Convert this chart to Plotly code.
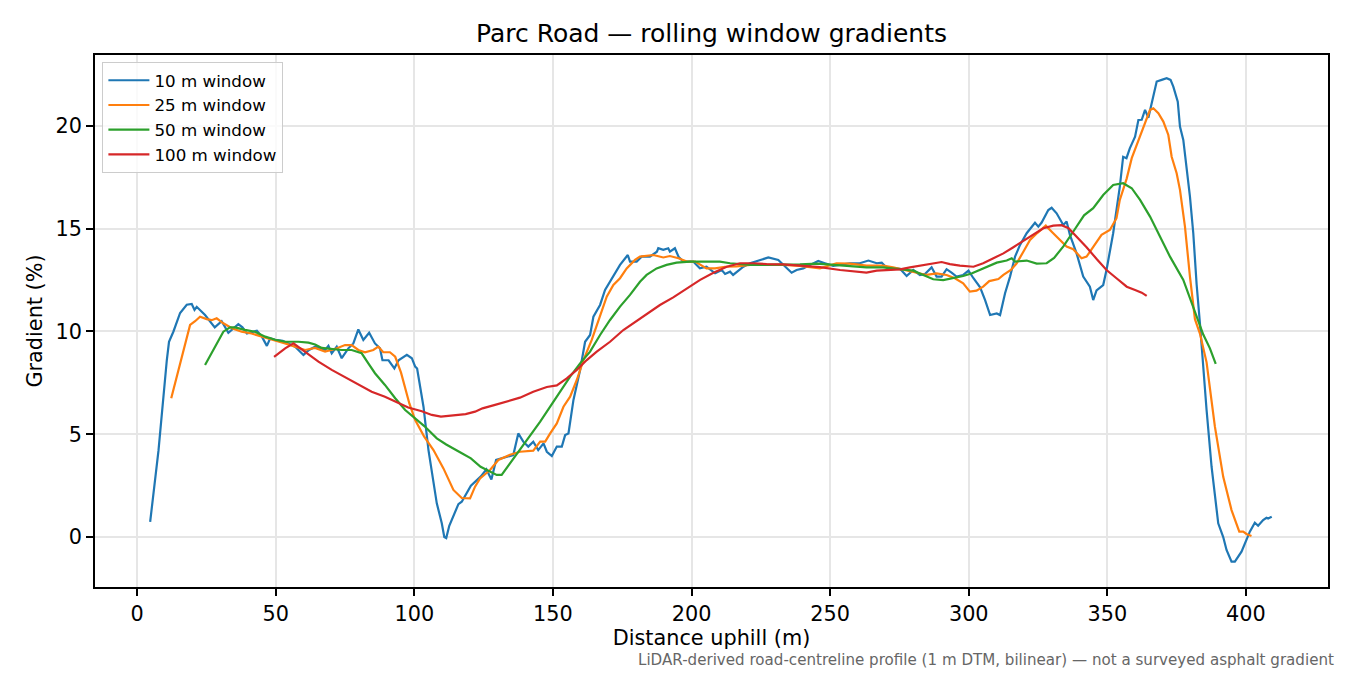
import plotly.graph_objects as go

# 10 m window (blue)
d10 = [4.7, 7.7, 10.7, 11.5, 13.1, 15.5, 17.9, 19.7, 20.7, 21.5, 24.5, 27.5, 28.0, 30.5, 32.9,
       36.5, 38.0, 39.6, 43.2, 45.0, 46.8, 48.0, 49.8, 52.5, 57.0, 60.0, 62.0, 64.2, 67.8, 69.0,
       70.2, 72.0, 73.8, 76.2, 78.0, 79.8, 81.6, 83.7, 85.8, 87.6, 88.5, 90.7, 92.8, 94.3, 97.3,
       99.1, 100.3, 101.0, 103.3, 105.1, 108.1, 109.9, 110.8, 111.5, 112.6, 115.9, 117.1, 120.4,
       124.0, 126.0, 127.8, 129.5, 133.4, 135.7, 137.5, 139.3, 141.1, 142.9, 144.7, 146.6, 147.8,
       149.6, 151.4, 153.2, 154.4, 155.6, 157.4, 159.8, 161.6, 163.4, 164.6, 167.0, 168.8, 171.2,
       174.2, 177.0, 177.8, 180.2, 182.0, 185.0, 187.5, 188.0, 189.8, 191.6, 192.2, 194.0, 195.3,
       197.0, 200.6, 203.0, 205.4, 208.5, 210.9, 212.1, 213.9, 215.0, 218.7, 221.1, 224.7, 227.7,
       231.3, 233.7, 236.1, 237.9, 240.3, 242.8, 245.7, 248.1, 251.1, 254.0, 257.1, 260.7, 263.8,
       266.8, 268.6, 270.4, 275.2, 277.6, 280.0, 282.4, 284.2, 286.6, 288.4, 290.2, 292.0, 293.8,
       295.6, 298.0, 299.9, 301.7, 304.1, 305.9, 307.7, 310.1, 311.3, 313.1, 314.9, 316.7, 318.5,
       320.9, 322.7, 323.9, 325.1, 326.3, 328.7, 329.9, 331.7, 334.1, 335.3, 336.5, 338.9, 341.3,
       343.7, 344.9, 346.1, 348.5, 349.7, 352.1, 354.5, 355.7, 356.9, 358.1, 360.0, 361.2, 362.4,
       363.6, 364.8, 365.4, 366.6, 367.8, 369.6, 371.4, 372.8, 373.8, 375.4, 376.2, 377.4, 378.6,
       379.8, 381.0, 382.2, 383.4, 384.6, 385.8, 387.6, 390.0, 391.8, 393.0, 394.8, 396.0, 398.4,
       400.2, 401.4, 403.2, 404.4, 406.2, 407.4, 408.0, 409.3]
g10 = [0.74, 4.2, 8.6, 9.5, 10.0, 10.9, 11.3, 11.34, 11.05, 11.2, 10.8, 10.27, 10.2, 10.5, 9.94,
       10.36, 10.2, 9.9, 10.04, 9.75, 9.3, 9.67, 9.59, 9.55, 9.26, 8.86, 9.1, 9.26, 9.1, 9.3,
       8.94, 9.26, 8.7, 9.18, 9.42, 10.1, 9.59, 9.94, 9.42, 9.18, 8.6, 8.6, 8.2, 8.6, 8.86,
       8.7, 8.29, 8.2, 6.34, 4.23, 1.64, 0.67, 0.0, -0.05, 0.55, 1.6, 1.72, 2.5,
       2.95, 3.3, 2.8, 3.75, 3.91, 3.99, 5.04, 4.64, 4.4, 4.64, 4.23, 4.56, 4.15,
       3.94, 4.4, 4.4, 4.96, 5.04, 6.67, 8.13, 9.5, 9.83, 10.72, 11.29, 12.02, 12.59,
       13.24, 13.72, 13.4, 13.4, 13.64, 13.64, 13.88, 14.05, 13.97, 14.05, 13.88, 14.05, 13.64,
       13.4, 13.4, 13.07, 13.15, 12.83, 12.99, 12.8, 12.91, 12.75, 13.15, 13.32, 13.48, 13.6,
       13.48, 13.15, 12.86, 12.99, 13.07, 13.24, 13.43, 13.32, 13.19, 13.25, 13.32, 13.32, 13.45,
       13.32, 13.35, 13.1, 13.05, 12.7, 12.99, 12.75, 12.8, 13.12, 12.67, 12.67, 13.03, 12.86,
       12.67, 12.75, 12.96, 12.59, 12.15, 11.53, 10.8, 10.88, 10.8, 11.86, 12.67, 13.64, 14.21,
       14.78, 15.1, 15.29, 15.1, 15.3, 15.91, 16.02, 15.75, 15.18, 15.35, 14.7, 13.8, 12.67,
       12.18, 11.53, 12.0, 12.26, 12.99, 14.78, 17.05, 18.5, 18.43, 18.91, 19.48, 20.29, 20.3,
       20.78, 20.4, 20.78, 21.43, 22.16, 22.24, 22.32, 22.24, 21.91, 21.18, 19.97, 19.32, 18.02,
       16.56, 14.78, 12.3, 10.4, 8.1, 6.18, 3.42, 0.67, 0.0, -0.63, -1.2, -1.2, -0.71,
       -0.15, 0.26, 0.7, 0.55, 0.83, 0.94, 0.9, 0.99]

# 25 m window (orange)
d25 = [12.3, 14.3, 16.7, 19.1, 20.9, 22.7, 25.1, 26.9, 28.7, 31.1, 34.2, 37.7, 41.3, 45.0, 49.8,
       53.4, 57.0, 60.6, 64.2, 67.8, 71.4, 75.0, 77.4, 79.8, 82.2, 85.2, 87.0, 88.8, 91.2, 93.1,
       95.2, 98.2, 100.3, 103.5, 106.9, 110.5, 114.1, 117.1, 120.1, 121.9, 123.7, 127.3, 130.3,
       134.5, 138.1, 142.9, 145.4, 147.2, 149.0, 151.4, 153.8, 156.2, 158.6, 161.0, 164.0, 167.0,
       169.4, 171.8, 174.2, 176.6, 179.6, 181.4, 186.2, 189.8, 192.2, 195.3, 198.3, 201.3, 205.4,
       208.5, 212.1, 216.3, 221.1, 227.1, 233.1, 239.1, 246.3, 252.3, 257.1, 263.1, 269.1, 272.7,
       277.6, 281.2, 284.8, 288.4, 292.0, 295.0, 298.0, 300.4, 302.8, 305.2, 307.4, 310.7, 312.5,
       315.2, 317.3, 319.7, 322.1, 324.8, 327.8, 330.2, 332.9, 335.3, 337.7, 340.7, 342.5, 344.9,
       347.9, 350.9, 353.3, 354.5, 357.0, 358.8, 361.2, 363.6, 365.4, 366.6, 368.4, 370.2, 372.0,
       373.2, 375.0, 376.2, 378.0, 379.8, 381.6, 383.4, 385.8, 388.8, 391.8, 394.8, 397.6, 399.0,
       400.2, 402.0]
g25 = [6.75, 7.8, 8.94, 10.32, 10.5, 10.72, 10.6, 10.55, 10.64, 10.4, 10.16, 9.99, 9.9, 9.75, 9.59,
       9.42, 9.26, 9.1, 9.2, 9.02, 9.15, 9.34, 9.34, 9.1, 8.99, 9.1, 9.26, 8.99, 8.99, 8.77,
       8.0, 6.5, 5.69, 4.9, 4.23, 3.34, 2.29, 1.9, 1.88, 2.45, 2.85, 3.26, 3.75,
       4.0, 4.15, 4.2, 4.64, 4.64, 5.04, 5.53, 6.34, 6.83, 7.64, 8.61, 9.59, 10.72,
       11.69, 12.26, 12.59, 13.07, 13.48, 13.64, 13.72, 13.6, 13.67, 13.56, 13.4, 13.4, 13.07,
       13.07, 13.15, 13.17, 13.24, 13.24, 13.24, 13.19, 13.07, 13.32, 13.3, 13.2, 13.2, 13.12,
       12.96, 12.86, 12.75, 12.83, 12.75, 12.59, 12.34, 11.94, 11.99, 12.18, 12.45, 12.55, 12.75,
       12.99, 13.32, 13.88, 14.45, 14.8, 15.15, 14.82, 14.45, 14.13, 14.0, 13.56, 13.64, 14.13,
       14.7, 14.94, 15.51, 16.4, 17.45, 18.43, 19.32, 20.21, 20.78, 20.86, 20.62, 20.21, 19.56,
       18.5, 17.7, 16.89, 15.1, 12.67, 10.6, 9.9, 8.5, 5.37, 2.93, 1.31, 0.26, 0.26,
       0.15, 0.05]

# 50 m window (green)
d50 = [24.5, 27.5, 31.1, 33.5, 35.3, 38.9, 42.5, 46.2, 49.8, 53.4, 58.2, 61.8, 64.2, 66.6, 70.2,
       73.8, 77.4, 81.0, 83.4, 85.8, 89.4, 93.1, 96.7, 99.7, 103.6, 108.1, 111.5, 116.8, 120.4,
       123.9, 127.5, 129.7, 131.5, 134.5, 138.1, 141.7, 145.4, 149.0, 152.6, 156.2, 159.8, 163.4,
       167.0, 170.6, 174.2, 177.8, 181.4, 183.8, 187.4, 191.0, 194.6, 199.4, 205.4, 210.2, 213.9,
       221.1, 227.1, 233.1, 239.1, 245.4, 251.1, 257.1, 263.1, 269.1, 275.2, 280.0, 283.6, 287.2,
       290.8, 294.4, 298.0, 301.2, 306.5, 310.1, 313.7, 315.5, 316.7, 320.9, 324.5, 328.1, 330.8,
       334.2, 337.9, 341.6, 344.9, 346.7, 348.5, 352.1, 355.7, 358.8, 361.8, 365.4, 369.0, 372.6,
       377.4, 381.0, 384.6, 387.0, 389.1]
g50 = [8.37, 9.1, 9.99, 10.2, 10.2, 10.08, 9.99, 9.75, 9.6, 9.5, 9.5, 9.46, 9.37, 9.2, 9.15,
       9.1, 9.1, 8.94, 8.45, 7.97, 7.4, 6.75, 6.18, 5.85, 5.4, 4.8, 4.5, 4.1, 3.83,
       3.42, 3.15, 3.02, 3.02, 3.58, 4.23, 4.88, 5.61, 6.34, 7.07, 7.8, 8.45, 9.02,
       9.83, 10.56, 11.21, 11.78, 12.42, 12.75, 13.07, 13.24, 13.35, 13.4, 13.4, 13.4, 13.32,
       13.24, 13.24, 13.24, 13.26, 13.3, 13.24, 13.19, 13.12, 13.12, 13.02, 12.96, 12.75, 12.54,
       12.5, 12.59, 12.7, 12.83, 13.12, 13.35, 13.45, 13.56, 13.4, 13.45, 13.3, 13.32, 13.58,
       14.15, 14.9, 15.65, 16.0, 16.3, 16.64, 17.13, 17.21, 16.97, 16.4, 15.59, 14.61, 13.64,
       12.51, 11.21, 9.85, 9.18, 8.42]

# 100 m window (red)
d100 = [49.4, 53.4, 56.4, 60.6, 65.4, 70.2, 75.0, 79.8, 84.6, 89.4, 93.1, 97.8, 102.7, 106.3,
        109.6, 114.2, 118.5, 121.9, 124.6, 128.8, 133.4, 138.1, 142.9, 147.8, 151.4, 155.0, 158.6,
        162.2, 165.8, 170.6, 175.4, 179.0, 183.8, 188.6, 193.4, 198.3, 203.1, 207.9, 212.7, 217.5,
        222.3, 227.1, 233.1, 239.1, 246.3, 253.6, 259.6, 263.1, 266.8, 271.6, 275.2, 278.8, 283.6,
        287.2, 290.2, 293.2, 296.8, 301.7, 305.2, 308.9, 312.5, 316.1, 319.7, 323.3, 326.9, 330.5,
        333.5, 336.0, 339.0, 342.5, 346.3, 349.7, 353.3, 357.0, 360.0, 362.4, 364.2]
g100 = [8.77, 9.18, 9.42, 9.02, 8.53, 8.13, 7.77, 7.4, 7.07, 6.83, 6.58, 6.3, 6.12, 5.94,
        5.86, 5.92, 5.98, 6.1, 6.26, 6.42, 6.58, 6.78, 7.07, 7.3, 7.38, 7.72, 8.13,
        8.61, 9.02, 9.5, 10.07, 10.4, 10.88, 11.29, 11.66, 12.1, 12.51, 12.86, 13.15, 13.32,
        13.32, 13.28, 13.26, 13.2, 13.13, 12.99, 12.91, 12.86, 12.96, 12.99, 13.02, 13.12, 13.24,
        13.32, 13.38, 13.28, 13.2, 13.15, 13.32, 13.56, 13.8, 14.1, 14.4, 14.7, 15.02, 15.15,
        15.17, 15.02, 14.61, 14.1, 13.5, 12.99, 12.59, 12.18, 12.02, 11.89, 11.73]

series = [
    ("10 m window", d10, g10, "#1f77b4"),
    ("25 m window", d25, g25, "#ff7f0e"),
    ("50 m window", d50, g50, "#2ca02c"),
    ("100 m window", d100, g100, "#d62728"),
]

fig = go.Figure()
for name, xs, ys, col in series:
    fig.add_trace(go.Scatter(x=xs, y=ys, mode="lines", name=name,
                             line=dict(color=col, width=2.2)))

axis_style = dict(showline=True, mirror=True, linecolor="black", linewidth=1.6,
                  ticks="outside", ticklen=7, tickwidth=1.6, tickcolor="black",
                  showgrid=True, gridcolor="#e6e6e6", gridwidth=1.6, zeroline=False,
                  tickfont=dict(size=20.8, color="black"))

fig.update_xaxes(range=[-15.2, 429.6], tick0=0, dtick=50,
                 title=dict(text="Distance uphill (m)", font=dict(size=20.8), standoff=4),
                 **axis_style)
fig.update_yaxes(range=[-2.43, 23.45], tick0=0, dtick=5,
                 title=dict(text="Gradient (%)", font=dict(size=20.8), standoff=7),
                 **axis_style)

# page body adds an 8 px offset, margins are set to compensate
fig.update_layout(
    width=1350, height=675,
    margin=dict(l=87, r=30, t=47, b=96),
    paper_bgcolor="white", plot_bgcolor="white",
    font=dict(family="DejaVu Sans", color="black"),
    title=dict(text="Parc Road — rolling window gradients", x=0.5, xref="paper",
               xanchor="center", y=1 - 25 / 675, yref="container", yanchor="middle",
               font=dict(size=25)),
    legend=dict(x=0.006, y=0.987, xanchor="left", yanchor="top",
                bgcolor="rgba(255,255,255,0.8)", bordercolor="#cccccc", borderwidth=1,
                font=dict(size=16.7), itemwidth=41),
    showlegend=True,
)

fig.add_annotation(
    text="LiDAR-derived road-centreline profile (1 m DTM, bilinear) — not a surveyed asphalt gradient",
    xref="paper", yref="paper", x=(1336 - 95) / 1233, y=(587 - 660) / 532,
    xanchor="right", yanchor="middle", showarrow=False,
    font=dict(size=15.1, color="#666666"))

fig.write_html("out.html")
